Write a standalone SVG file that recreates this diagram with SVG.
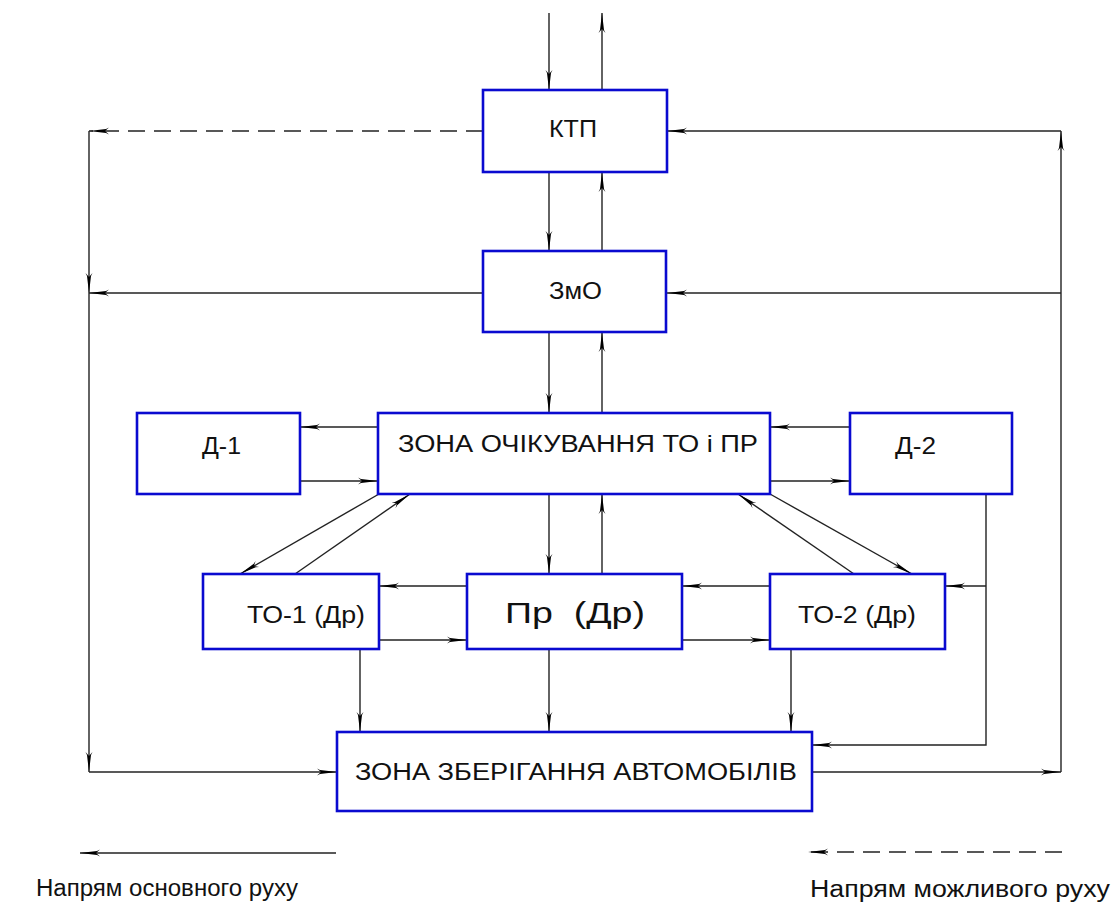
<svg xmlns="http://www.w3.org/2000/svg" width="1120" height="903" viewBox="0 0 1120 903">
<defs>
<marker id="ah" markerUnits="userSpaceOnUse" markerWidth="22" markerHeight="10" refX="20" refY="5" orient="auto">
<path d="M0,1.5 L3,3 L20,5 L3,7 L0,8.5 L4,5 Z" fill="#000"/>
</marker>
<style>
.box{fill:#fff;stroke:#0a0ad0;stroke-width:2.6}
.c{fill:none;stroke:#222;stroke-width:1.4}
.a{marker-end:url(#ah)}
.d{stroke-dasharray:17 9}
.t{font-family:"Liberation Sans",Arial,sans-serif;font-size:23px;fill:#111}
</style>
</defs>
<rect width="1120" height="903" fill="#fff"/>
<g id="connectors">
<line class="c a" x1="549" y1="13" x2="549" y2="90"/>
<line class="c a" x1="602" y1="90" x2="602" y2="13"/>
<line class="c a" x1="549" y1="172" x2="549" y2="251"/>
<line class="c a" x1="602" y1="251" x2="602" y2="172"/>
<line class="c a" x1="549" y1="332" x2="549" y2="413"/>
<line class="c a" x1="602" y1="413" x2="602" y2="332"/>
<line class="c a" x1="549" y1="494" x2="549" y2="574"/>
<line class="c a" x1="602" y1="574" x2="602" y2="494"/>
<line class="c a d" x1="483" y1="131" x2="89" y2="131"/>
<line class="c a" x1="89" y1="131" x2="89" y2="293"/>
<line class="c a" x1="483" y1="293" x2="89" y2="293"/>
<line class="c a" x1="89" y1="293" x2="89" y2="772"/>
<line class="c a" x1="89" y1="772" x2="337" y2="772"/>
<line class="c a" x1="812" y1="772" x2="1061" y2="772"/>
<line class="c a" x1="1061" y1="772" x2="1061" y2="131"/>
<line class="c a" x1="1061" y1="131" x2="667" y2="131"/>
<line class="c a" x1="1061" y1="293" x2="667" y2="293"/>
<line class="c a" x1="378" y1="427" x2="300" y2="427"/>
<line class="c a" x1="300" y1="481" x2="378" y2="481"/>
<line class="c a" x1="850" y1="427" x2="770" y2="427"/>
<line class="c a" x1="770" y1="481" x2="850" y2="481"/>
<line class="c a" x1="379" y1="494" x2="240" y2="574"/>
<line class="c a" x1="295" y1="574" x2="410" y2="494"/>
<line class="c a" x1="854" y1="574" x2="738" y2="494"/>
<line class="c a" x1="770" y1="494" x2="912" y2="574"/>
<line class="c a" x1="467" y1="586" x2="379" y2="586"/>
<line class="c a" x1="379" y1="640" x2="467" y2="640"/>
<line class="c a" x1="770" y1="586" x2="682" y2="586"/>
<line class="c a" x1="682" y1="640" x2="770" y2="640"/>
<polyline class="c a" points="986,494 986,745 812,745"/>
<line class="c a" x1="986" y1="586" x2="945" y2="586"/>
<line class="c a" x1="360" y1="649" x2="360" y2="732"/>
<line class="c a" x1="549" y1="649" x2="549" y2="732"/>
<line class="c a" x1="791" y1="649" x2="791" y2="732"/>
<line class="c a" x1="336" y1="853" x2="80" y2="853"/>
<line class="c a d" x1="1062" y1="852" x2="808" y2="852"/>
</g>
<g id="ktp"><rect class="box" x="483" y="90" width="184" height="82"/><text class="t" x="549" y="137" textLength="48" lengthAdjust="spacingAndGlyphs">КТП</text></g>
<g id="zmo"><rect class="box" x="483" y="251" width="183" height="81"/><text class="t" x="549" y="299" textLength="53" lengthAdjust="spacingAndGlyphs">ЗмО</text></g>
<g id="zona-ochikuvannya"><rect class="box" x="378" y="413" width="392" height="81"/><text class="t" x="398" y="452" textLength="360" lengthAdjust="spacingAndGlyphs">ЗОНА ОЧІКУВАННЯ ТО і ПР</text></g>
<g id="d1"><rect class="box" x="137" y="413" width="163" height="81"/><text class="t" x="202" y="454" textLength="39" lengthAdjust="spacingAndGlyphs">Д-1</text></g>
<g id="d2"><rect class="box" x="850" y="413" width="162" height="81"/><text class="t" x="895" y="454" textLength="41" lengthAdjust="spacingAndGlyphs">Д-2</text></g>
<g id="to1"><rect class="box" x="203" y="574" width="176" height="75"/><text class="t" x="247" y="623" textLength="118" lengthAdjust="spacingAndGlyphs">ТО-1 (Др)</text></g>
<g id="pr"><rect class="box" x="467" y="574" width="215" height="75"/><text class="t" x="505" y="623" style="font-size:30px;white-space:pre" textLength="140" lengthAdjust="spacingAndGlyphs">Пр  (Др)</text></g>
<g id="to2"><rect class="box" x="770" y="574" width="175" height="75"/><text class="t" x="798" y="623" textLength="118" lengthAdjust="spacingAndGlyphs">ТО-2 (Др)</text></g>
<g id="zona-zberigannya"><rect class="box" x="337" y="732" width="475" height="79"/><text class="t" x="355" y="780" textLength="442" lengthAdjust="spacingAndGlyphs">ЗОНА ЗБЕРІГАННЯ АВТОМОБІЛІВ</text></g>
<g id="legend">
<text class="t" x="36" y="896" textLength="262" lengthAdjust="spacingAndGlyphs">Напрям основного руху</text>
<text class="t" x="810" y="897" textLength="300" lengthAdjust="spacingAndGlyphs">Напрям можливого руху</text>
</g>
</svg>
